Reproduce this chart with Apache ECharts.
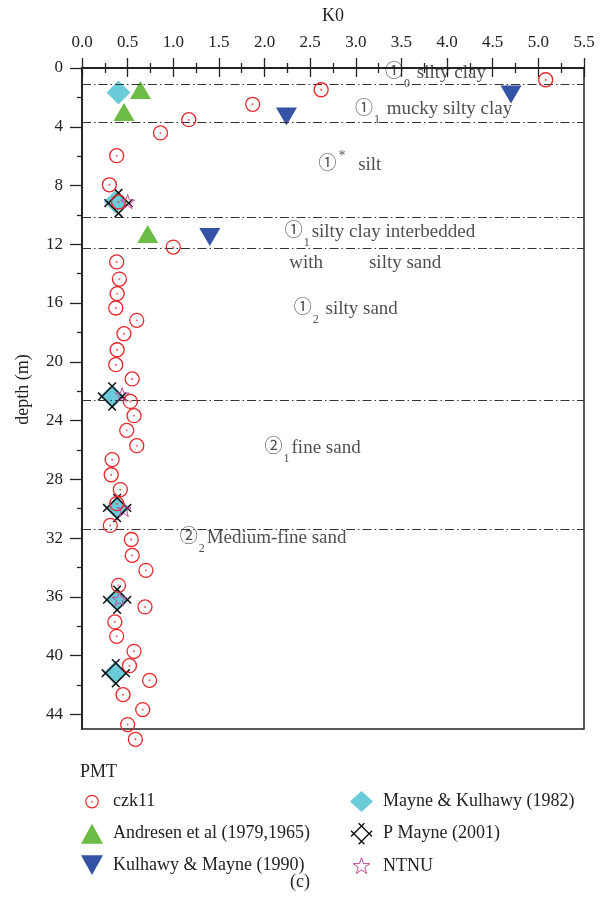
<!DOCTYPE html>
<html>
<head>
<meta charset="utf-8">
<script src="https://cdn.jsdelivr.net/npm/echarts@6/dist/echarts.min.js"></script>
<style>
  html, body { margin: 0; padding: 0; background: #fff; }
  #chart { width: 600px; height: 915px; }
</style>
</head>
<body>
<div id="chart"></div>
<script>
// PMT measurements, borehole czk11 (K0 vs depth in m)
const czk11K = [5.08, 2.62, 1.87, 1.17, 0.86, 0.38, 0.30, 0.40, 1.00, 0.38, 0.41, 0.385, 0.37, 0.60, 0.46,
  0.385, 0.37, 0.55, 0.53, 0.57, 0.49, 0.60, 0.33, 0.32, 0.42, 0.38, 0.31, 0.54, 0.55, 0.70, 0.40, 0.69,
  0.36, 0.38, 0.57, 0.52, 0.74, 0.45, 0.665, 0.50, 0.585];
const czk11Depth = [0.8, 1.48, 2.47, 3.52, 4.42, 5.97, 7.95, 9.12, 12.19, 13.2, 14.37, 15.36, 16.34, 17.18, 18.09,
  19.18, 20.2, 21.17, 22.7, 23.67, 24.67, 25.71, 26.66, 27.69, 28.7, 29.66, 31.14, 32.1, 33.18, 34.2, 35.22, 36.69,
  37.71, 38.69, 39.71, 40.69, 41.69, 42.66, 43.68, 44.7, 45.7];

// Empirical estimates
const andresenK = [0.64, 0.46, 0.72];
const andresenDepth = [1.5, 3.0, 11.3];
const kulhawyK = [4.70, 2.24, 1.40];
const kulhawyDepth = [1.8, 3.3, 11.5];
const mayneKulhawyK = [0.40, 0.37, 0.33, 0.385, 0.385, 0.366];
const mayneKulhawyDepth = [1.66, 9.1, 22.36, 29.95, 36.2, 41.18];
const pMayneK = [0.40, 0.33, 0.385, 0.385, 0.37];
const pMayneDepth = [9.2, 22.36, 29.95, 36.2, 41.2];
const ntnuK = [0.50, 0.44, 0.46, 0.41];
const ntnuDepth = [9.1, 22.24, 30.06, 36.15];

// Soil layer boundaries (depth, m)
const layerBoundaries = [1.09, 3.66, 10.15, 12.25, 22.65, 31.38];

// Soil layer annotations: anchor (K0, depth) and rich-text content
const layerLabelK = [3.32, 2.99, 2.59, 2.22, 2.27, 2.32, 2.00, 1.07];
const layerLabelDepth = [0.32, 2.78, 6.58, 11.14, 13.26, 16.39, 25.85, 31.97];
const layerLabelText = [
  '{c|①}{sub|0}{t| silty clay}',
  '{c|①}{sub|1}{t| mucky silty clay}',
  '{c|①}{sup|*}{t| silt}',
  '{c|①}{sub|1}{t|silty clay interbedded}',
  '{t|with}{gap|}{t|silty sand}',
  '{c|①}{sub|2}{t| silty sand}',
  '{c|②}{sub|1}{t|fine sand}',
  '{c|②}{sub|2}{t|Medium-fine sand}'
];

// Axis ticks
const depthMajorTicks = [0, 4, 8, 12, 16, 20, 24, 28, 32, 36, 40, 44];
const depthMinorTicks = [2, 6, 10, 14, 18, 22, 26, 30, 34, 38, 42];

const FONT = "'Liberation Serif', 'DejaVu Serif', 'Noto Sans CJK SC', serif";
const INK = '#222';

const pairs = (xs, ys) => xs.map((x, i) => [x, ys[i]]);

// Symbol shapes
const ringDot = 'path://M0 10A10 10 0 1 0 20 10A10 10 0 1 0 0 10ZM10 9.6A0.4 0.4 0 1 0 10 10.4A0.4 0.4 0 1 0 10 9.6Z';
const ringDotIcon = ringDot + 'M-6 -6M26 26';
const downTriangle = 'path://M0 0L20 0L10 18Z';
const lattice = 'path://M9 1L23 15M1 9L15 23M1 15L15 1M9 23L23 9';
const star = 'path://M10 0L12.35 6.76L19.51 6.91L13.8 11.24L15.88 18.09L10 14L4.12 18.09L6.2 11.24L0.49 6.91L7.65 6.76Z';
const starIcon = star + 'M-2 -2M22 22';

const chart = echarts.init(document.getElementById('chart'), null, { renderer: 'canvas' });

const axisLineStyle = { color: INK, width: 1.8 };
const tickStyle = { color: INK, width: 1.3 };
const legendText = { fontFamily: FONT, fontSize: 18, color: INK, padding: [0, 0, 0, 5] };

const option = {
  animation: false,
  backgroundColor: '#fff',
  textStyle: { fontFamily: FONT },
  grid: {
    left: 82, top: 68, right: 16, bottom: 186,
    show: true, borderColor: INK, borderWidth: 1.5, backgroundColor: 'transparent'
  },
  xAxis: [
    {
      type: 'value', position: 'top', min: 0, max: 5.5, interval: 0.5,
      name: 'K0', nameLocation: 'middle', nameGap: 43,
      nameTextStyle: { fontFamily: FONT, fontSize: 18, color: INK },
      axisLine: { show: true, lineStyle: axisLineStyle },
      axisTick: { show: true, length: 10, lineStyle: tickStyle },
      minorTick: { show: true, splitNumber: 2, length: 5, lineStyle: tickStyle },
      axisLabel: { margin: 17, fontFamily: FONT, fontSize: 17, color: INK, formatter: v => v.toFixed(1) },
      splitLine: { show: false }
    },
    {
      type: 'value', position: 'top', min: 0, max: 5.5, interval: 0.5,
      axisLine: { show: false },
      axisTick: { show: true, inside: true, length: 9, lineStyle: tickStyle },
      minorTick: { show: true, splitNumber: 2, length: 5, lineStyle: tickStyle },
      axisLabel: { show: false },
      splitLine: { show: false }
    }
  ],
  yAxis: [
    {
      type: 'value', inverse: true, min: 0, max: 45, position: 'left',
      name: 'depth (m)', nameLocation: 'middle', nameGap: 50, nameRotate: 90,
      nameTextStyle: { fontFamily: FONT, fontSize: 18, color: INK, padding: [0, 0, 0, 18] },
      axisLine: { show: true, lineStyle: axisLineStyle },
      axisTick: { show: true, length: 12, customValues: depthMajorTicks, lineStyle: tickStyle },
      axisLabel: { margin: 19, customValues: depthMajorTicks, fontFamily: FONT, fontSize: 17, color: INK },
      splitLine: { show: false }
    },
    {
      type: 'value', inverse: true, min: 0, max: 45, position: 'left',
      axisLine: { show: false },
      axisTick: { show: true, length: 5, customValues: depthMinorTicks, lineStyle: tickStyle },
      axisLabel: { show: false },
      splitLine: { show: false }
    }
  ],
  legend: [
    {
      orient: 'vertical', left: 81, top: 791, padding: 0, itemWidth: 22, itemHeight: 20, itemGap: 11.5,
      selectedMode: false,
      textStyle: legendText,
      data: [
        { name: 'czk11', icon: ringDotIcon, itemStyle: { color: 'rgba(0,0,0,0)', borderColor: '#e8262a', borderWidth: 1.2 } },
        { name: 'Andresen et al (1979,1965)', itemStyle: { borderWidth: 0 } },
        { name: 'Kulhawy & Mayne (1990)', itemStyle: { borderWidth: 0 } }
      ]
    },
    {
      orient: 'vertical', left: 350, top: 791, padding: 0, itemWidth: 23, itemHeight: 21, itemGap: 10.5,
      selectedMode: false,
      textStyle: legendText,
      data: [
        { name: 'Mayne & Kulhawy (1982)', itemStyle: { borderWidth: 0 } },
        { name: 'P Mayne (2001)', itemStyle: { color: 'rgba(0,0,0,0)', borderColor: '#111', borderWidth: 1.4 } },
        { name: 'NTNU', icon: starIcon, itemStyle: { color: 'rgba(0,0,0,0)', borderColor: '#c0479a', borderWidth: 1 } }
      ]
    }
  ],
  graphic: [
    { type: 'text', left: 80, top: 763, style: { text: 'PMT', font: '18px ' + FONT, fill: INK } },
    { type: 'text', left: 'center', top: 873, style: { text: '(c)', font: '18px ' + FONT, fill: INK } }
  ],
  series: [
    {
      name: 'layers', type: 'scatter', silent: true, symbolSize: 0, z: 1,
      data: layerLabelK.map((k, i) => ({ value: [k, layerLabelDepth[i]], label: { formatter: layerLabelText[i] } })),
      label: {
        show: true, position: 'right', distance: 0, align: 'left', verticalAlign: 'middle',
        rich: {
          t: { fontFamily: FONT, fontSize: 19, color: INK },
          c: { fontFamily: FONT, fontSize: 18, color: INK },
          sub: { fontFamily: FONT, fontSize: 12, color: INK, padding: [22, 2, 0, 1] },
          sup: { fontFamily: FONT, fontSize: 14, color: INK, padding: [0, 8, 16, 2] },
          gap: { width: 46 }
        }
      },
      markLine: {
        silent: true, symbol: ['none', 'none'], label: { show: false },
        lineStyle: { color: '#333', width: 1, type: [9, 3, 1.5, 3] },
        data: layerBoundaries.map(d => ({ yAxis: d }))
      }
    },
    {
      name: 'Mayne & Kulhawy (1982)', type: 'scatter', symbol: 'diamond', symbolSize: 24, z: 2,
      itemStyle: { color: '#6ccbd9', opacity: 1 },
      data: pairs(mayneKulhawyK, mayneKulhawyDepth)
    },
    {
      name: 'P Mayne (2001)', type: 'scatter', symbol: lattice, symbolSize: 28, z: 3,
      itemStyle: { color: 'rgba(0,0,0,0)', borderColor: '#111', borderWidth: 1.5, opacity: 1 },
      data: pairs(pMayneK, pMayneDepth)
    },
    {
      name: 'NTNU', type: 'scatter', symbol: star, symbolSize: 14, z: 3,
      itemStyle: { color: 'rgba(0,0,0,0)', borderColor: '#c0479a', borderWidth: 1, opacity: 1 },
      data: pairs(ntnuK, ntnuDepth)
    },
    {
      name: 'Andresen et al (1979,1965)', type: 'scatter', symbol: 'triangle', symbolSize: [21, 18], z: 4,
      itemStyle: { color: '#6cbb45', opacity: 1 },
      data: pairs(andresenK, andresenDepth)
    },
    {
      name: 'Kulhawy & Mayne (1990)', type: 'scatter', symbol: downTriangle, symbolSize: [21, 18], z: 4,
      itemStyle: { color: '#3553a6', opacity: 1 },
      data: pairs(kulhawyK, kulhawyDepth)
    },
    {
      name: 'czk11', type: 'scatter', symbol: ringDot, symbolSize: 14, z: 5, clip: false,
      itemStyle: { color: 'rgba(0,0,0,0)', borderColor: '#e8262a', borderWidth: 1.3, opacity: 1 },
      data: pairs(czk11K, czk11Depth)
    }
  ]
};

chart.setOption(option);
</script>
</body>
</html>
